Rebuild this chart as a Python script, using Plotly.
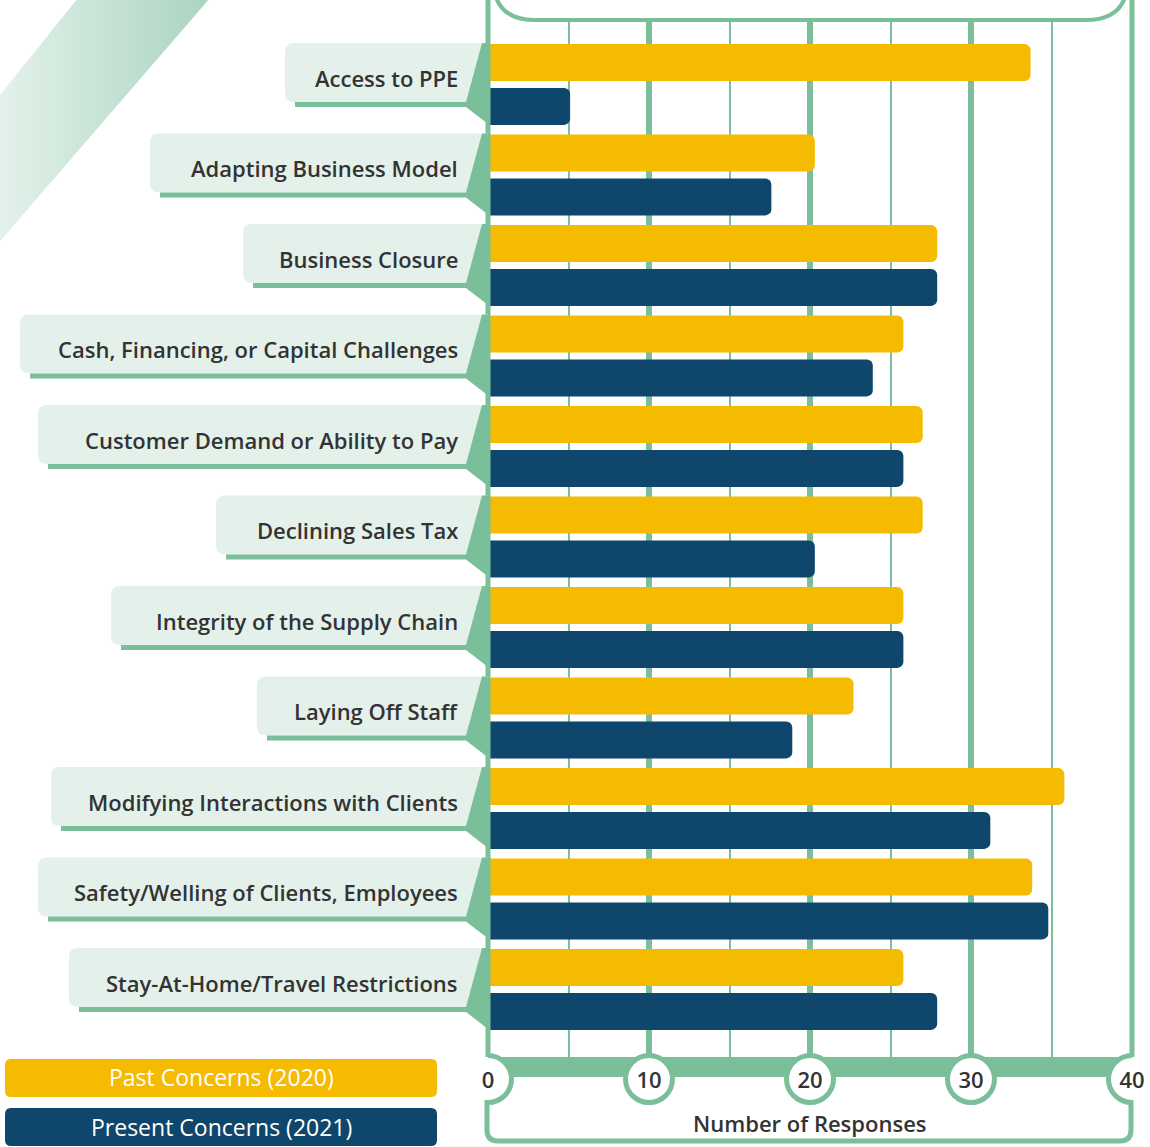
"""
Pandemic business concerns - past vs present responses.
"""

import plotly.graph_objects as go


# ==========================================================
# DATA
# ==========================================================

CATEGORIES = [
    "Access to PPE",
    "Adapting Business Model",
    "Business Closure",
    "Cash, Financing, or Capital Challenges",
    "Customer Demand or Ability to Pay",
    "Declining Sales Tax",
    "Integrity of the Supply Chain",
    "Laying Off Staff",
    "Modifying Interactions with Clients",
    "Safety/Welling of Clients, Employees",
    "Stay-At-Home/Travel Restrictions",
]

PAST_2020 = [33.7, 20.3, 27.9, 25.8, 27.0, 27.0, 25.8, 22.7, 35.8, 33.8, 25.8]

PRESENT_2021 = [5.1, 17.6, 27.9, 23.9, 25.8, 20.3, 25.8, 18.9, 31.2, 34.8, 27.9]

SERIES_NAMES = ["Past Concerns (2020)", "Present Concerns (2021)"]

TICK_VALUES = [0, 10, 20, 30, 40]

AXIS_TITLE = "Number of Responses"


# ==========================================================
# COLOURS / FONT
# ==========================================================

COLORS = {
    "past": "#F5BB00",
    "present": "#0F476C",
    "green": "#7BBF9A",
    "label_bg": "#E3F1EA",
    "text": "#333333",
}

FONT_FAMILY = "Open Sans"
TEXT_FONT = dict(family=FONT_FAMILY, size=22, color=COLORS["text"], weight=600)


# ==========================================================
# PAGE GEOMETRY (pixels)
# ==========================================================

W, H = 1150, 1147
PLOT_LEFT, PLOT_RIGHT = 488, 1132
PLOT_TOP, PLOT_BOTTOM = 22, 1057
ROW0_CENTER, ROW_STEP = 84.5, 90.5

# left edge of each label card, top to bottom
LABEL_BOX_LEFT = [285, 150, 243, 20, 38, 216, 111, 257, 51, 38, 69]


def fx(px):
    return px / W


def fy(py):
    return 1 - py / H


def rounded_rect(x0, y0, x1, y1, r):
    """Rounded rectangle path in paper coords, from pixel corners."""
    return (
        f"M {fx(x0 + r)},{fy(y0)} L {fx(x1 - r)},{fy(y0)} "
        f"Q {fx(x1)},{fy(y0)} {fx(x1)},{fy(y0 + r)} "
        f"L {fx(x1)},{fy(y1 - r)} Q {fx(x1)},{fy(y1)} {fx(x1 - r)},{fy(y1)} "
        f"L {fx(x0 + r)},{fy(y1)} Q {fx(x0)},{fy(y1)} {fx(x0)},{fy(y1 - r)} "
        f"L {fx(x0)},{fy(y0 + r)} Q {fx(x0)},{fy(y0)} {fx(x0 + r)},{fy(y0)} Z"
    )


# ==========================================================
# BARS
# ==========================================================

fig = go.Figure()

fig.add_trace(
    go.Bar(
        name=SERIES_NAMES[0],
        y=CATEGORIES,
        x=PAST_2020,
        orientation="h",
        marker=dict(color=COLORS["past"], line=dict(width=0)),
    )
)

fig.add_trace(
    go.Bar(
        name=SERIES_NAMES[1],
        y=CATEGORIES,
        x=PRESENT_2021,
        orientation="h",
        marker=dict(color=COLORS["present"], line=dict(width=0)),
    )
)

# diagonal ribbon in the top-left corner (pixel axes x2/y2)
fig.add_trace(
    go.Scatter(
        x=[78, 210, -5, -5, 78],
        y=[-2, -2, 247, 101, -2],
        xaxis="x2",
        yaxis="y2",
        mode="lines",
        line=dict(width=0),
        fill="toself",
        fillgradient=dict(
            type="horizontal",
            colorscale=[[0, "#E5F2EC"], [1, "#AAD4BF"]],
        ),
        hoverinfo="skip",
        showlegend=False,
    )
)


# ==========================================================
# SHAPES
# ==========================================================

shapes = []
green = COLORS["green"]

# bottom axis bar + tick bubbles (kept under the tick labels)
shapes.append(
    dict(
        type="rect", xref="x", yref="paper", x0=0, x1=40,
        y0=fy(1077), y1=fy(1057), fillcolor=green, line_width=0, layer="below",
    )
)
for t in TICK_VALUES:
    shapes.append(
        dict(
            type="circle", xref="x", yref="paper",
            xsizemode="pixel", ysizemode="pixel",
            xanchor=t, yanchor=fy(1079),
            x0=-23.5, x1=23.5, y0=-23.5, y1=23.5,
            fillcolor="white", line=dict(color=green, width=5), layer="below",
        )
    )

# frame: left / right rails and the rounded box at the top
for xpix in (PLOT_LEFT, PLOT_RIGHT):
    shapes.append(
        dict(
            type="line", xref="paper", yref="paper",
            x0=fx(xpix), x1=fx(xpix), y0=fy(-5), y1=fy(PLOT_BOTTOM),
            line=dict(color=green, width=5),
        )
    )

shapes.append(
    dict(
        type="path", xref="paper", yref="paper",
        path=(
            f"M {fx(493)},{fy(-60)} L {fx(493)},{fy(-22)} "
            f"Q {fx(493)},{fy(20)} {fx(535)},{fy(20)} "
            f"L {fx(1086)},{fy(20)} Q {fx(1128)},{fy(20)} {fx(1128)},{fy(-22)} "
            f"L {fx(1128)},{fy(-60)}"
        ),
        line=dict(color=green, width=4),
    )
)

# bracket under the axis holding the title
shapes.append(
    dict(
        type="path", xref="paper", yref="paper",
        path=(
            f"M {fx(487)},{fy(1100)} L {fx(487)},{fy(1130)} "
            f"Q {fx(487)},{fy(1141)} {fx(498)},{fy(1141)} "
            f"L {fx(1120)},{fy(1141)} Q {fx(1131)},{fy(1141)} {fx(1131)},{fy(1130)} "
            f"L {fx(1131)},{fy(1100)}"
        ),
        line=dict(color=green, width=5),
    )
)

# label cards, anchored on each category row (pixel offsets, up = +)
for cat, left in zip(CATEGORIES, LABEL_BOX_LEFT):
    top, bot, r = 41.5, -17.5, 9
    card = (
        f"M {left + r},{top} L {PLOT_LEFT},{top} L {PLOT_LEFT},{bot} "
        f"L {left + r},{bot} Q {left},{bot} {left},{bot + r} "
        f"L {left},{top - r} Q {left},{top} {left + r},{top} Z"
    )
    tab = (
        f"M 482,{top} L {PLOT_LEFT},{top} L {PLOT_LEFT},-39.5 "
        f"L 466,-22.5 L {left + 10},-22.5 L {left + 10},{bot} L 466,{bot} Z"
    )
    for path, fill in ((card, COLORS["label_bg"]), (tab, green)):
        shapes.append(
            dict(
                type="path", xref="paper", yref="y",
                xsizemode="pixel", ysizemode="pixel",
                xanchor=0, yanchor=cat,
                path=path, fillcolor=fill, line_width=0,
            )
        )

# legend boxes
for i, color in enumerate((COLORS["past"], COLORS["present"])):
    y0 = 1059 + i * 49
    shapes.append(
        dict(
            type="path", xref="paper", yref="paper",
            path=rounded_rect(5, y0, 437, y0 + 38, 6),
            fillcolor=color, line_width=0,
        )
    )


# ==========================================================
# ANNOTATIONS
# ==========================================================

annotations = []

for cat in CATEGORIES:
    annotations.append(
        dict(
            text=cat, xref="paper", yref="y", x=fx(460), y=cat,
            xanchor="right", yanchor="middle", yshift=7, showarrow=False,
            font=TEXT_FONT,
        )
    )

for i, name in enumerate(SERIES_NAMES):
    annotations.append(
        dict(
            text=name, xref="paper", yref="paper",
            x=fx(221), y=fy(1077 + i * 50),
            xanchor="center", yanchor="middle", showarrow=False,
            font=dict(TEXT_FONT, size=23, color="white", weight=500),
        )
    )

annotations.append(
    dict(
        text=AXIS_TITLE, xref="x", yref="paper", x=20, y=fy(1123),
        xanchor="center", yanchor="middle", showarrow=False,
        font=TEXT_FONT,
    )
)


# ==========================================================
# LAYOUT
# ==========================================================

y_top = (PLOT_TOP - ROW0_CENTER) / ROW_STEP
y_bot = (PLOT_BOTTOM - ROW0_CENTER) / ROW_STEP

fig.update_layout(
    width=W,
    height=H,
    autosize=False,
    margin=dict(l=0, r=0, t=0, b=0, pad=0, autoexpand=False),
    paper_bgcolor="white",
    plot_bgcolor="rgba(0,0,0,0)",
    showlegend=False,
    barmode="group",
    bargap=0.03,
    bargroupgap=0.16,
    barcornerradius=6,
    font=dict(family=FONT_FAMILY, color=COLORS["text"]),
    shapes=shapes,
    annotations=annotations,
    xaxis=dict(
        domain=[fx(PLOT_LEFT), fx(PLOT_RIGHT)],
        range=[0, 40],
        tickvals=TICK_VALUES,
        ticks="",
        ticklabelstandoff=8,
        tickfont=dict(family=FONT_FAMILY, size=22, color=COLORS["text"], weight=600),
        showgrid=True,
        gridcolor=COLORS["green"],
        gridwidth=6,
        zeroline=False,
        showline=False,
        automargin=False,
        minor=dict(dtick=5, showgrid=True, gridcolor=COLORS["green"], gridwidth=2),
        fixedrange=True,
    ),
    yaxis=dict(
        domain=[fy(PLOT_BOTTOM), fy(PLOT_TOP)],
        type="category",
        categoryorder="array",
        categoryarray=CATEGORIES,
        range=[y_bot, y_top],
        showticklabels=False,
        showgrid=False,
        zeroline=False,
        showline=False,
        automargin=False,
        fixedrange=True,
    ),
    xaxis2=dict(
        domain=[0, 1], range=[0, W], visible=False, anchor="y2", automargin=False
    ),
    yaxis2=dict(
        domain=[0, 1], range=[H, 0], visible=False, anchor="x2", automargin=False
    ),
)

# the page body keeps its default 8px margin; drop it so the
# 1150x1147 figure sits flush in the window
fig.write_html(
    "out.html",
    config={"displayModeBar": False},
    post_script="document.body.style.margin = '0';",
)
